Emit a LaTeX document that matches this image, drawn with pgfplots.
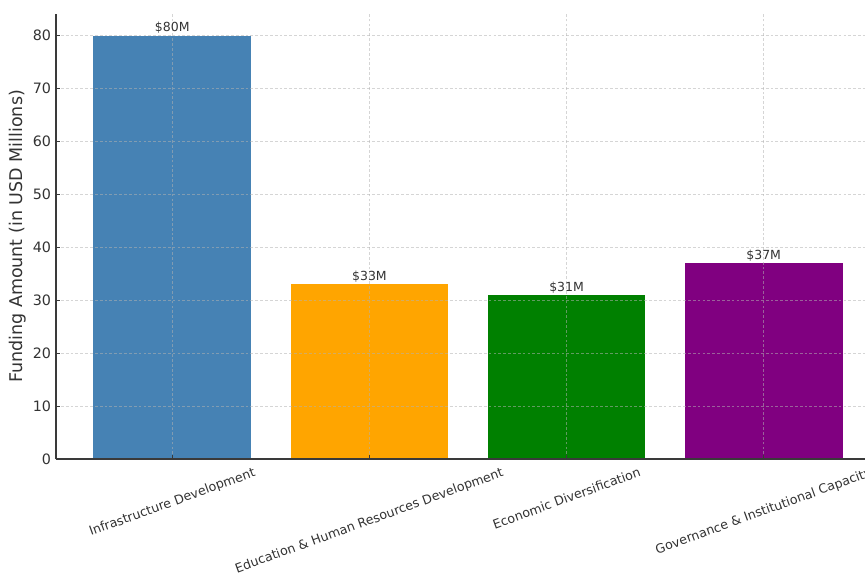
\documentclass[border=0pt]{standalone}
\usepackage{pgfplots}
\pgfplotsset{compat=1.18}
\usepackage{fontspec}
\setmainfont{DejaVu Sans}
\usepackage{graphicx}
\definecolor{steelblue}{HTML}{4682B4}
\definecolor{barorange}{HTML}{FFA500}
\definecolor{bargreen}{HTML}{008000}
\definecolor{barpurple}{HTML}{800080}
\definecolor{spine}{HTML}{3A3A3A}
\definecolor{txt}{HTML}{333333}
\newcommand{\rl}[1]{\rotatebox[origin=c]{20}{#1}}
\begin{document}
\begin{tikzpicture}
\begin{axis}[
  at={(0,0)}, anchor=south west,
  scale only axis, width=593.28pt, height=320.4pt,
  xmin=-0.59, xmax=3.59, ymin=0, ymax=84.1,
  axis x line*=bottom, axis y line*=left,
  axis line style={spine, line width=1pt},
  axis on top,
  ybar, bar width=0.8,
  xtick={0,1,2,3},
  xticklabels={\rl{Infrastructure Development},\rl{Education \& Human Resources Development},\rl{Economic Diversification},\rl{Governance \& Institutional Capacity}},
  xticklabel style={font=\fontsize{9.1}{10}\selectfont, color=txt, anchor=north, inner sep=0pt, yshift=-5.5pt},
  ytick={0,10,...,80},
  yticklabel style={font=\fontsize{10.3}{12}\selectfont, color=txt},
  /pgf/number format/assume math mode=true,
  tick align=inside,
  major tick length=3pt,
  tick style={spine, line width=0.6pt},
  grid=major,
  major grid style={dash pattern=on 2pt off 1.5pt, gray!60, line width=0.5pt, opacity=0.55},
  ylabel={Funding Amount (in USD Millions)},
  ylabel style={at={(axis description cs:-0.0461,0.5)}, anchor=center, font=\fontsize{12.6}{14}\selectfont, color=txt},
  nodes near coords={\$\pgfmathprintnumber{\pgfplotspointmeta}M},
  nodes near coords style={font=\fontsize{9}{10}\selectfont, color=txt, anchor=south, inner sep=1.2pt},
]
\addplot[fill=steelblue, draw=none, bar shift=0pt] coordinates {(0,80)};
\addplot[fill=barorange, draw=none, bar shift=0pt] coordinates {(1,33)};
\addplot[fill=bargreen, draw=none, bar shift=0pt] coordinates {(2,31)};
\addplot[fill=barpurple, draw=none, bar shift=0pt] coordinates {(3,37)};
\end{axis}
\pgfresetboundingbox
\useasboundingbox (-40.32pt,-92.16pt) rectangle (582.48pt,330.48pt);
\end{tikzpicture}
\end{document}
